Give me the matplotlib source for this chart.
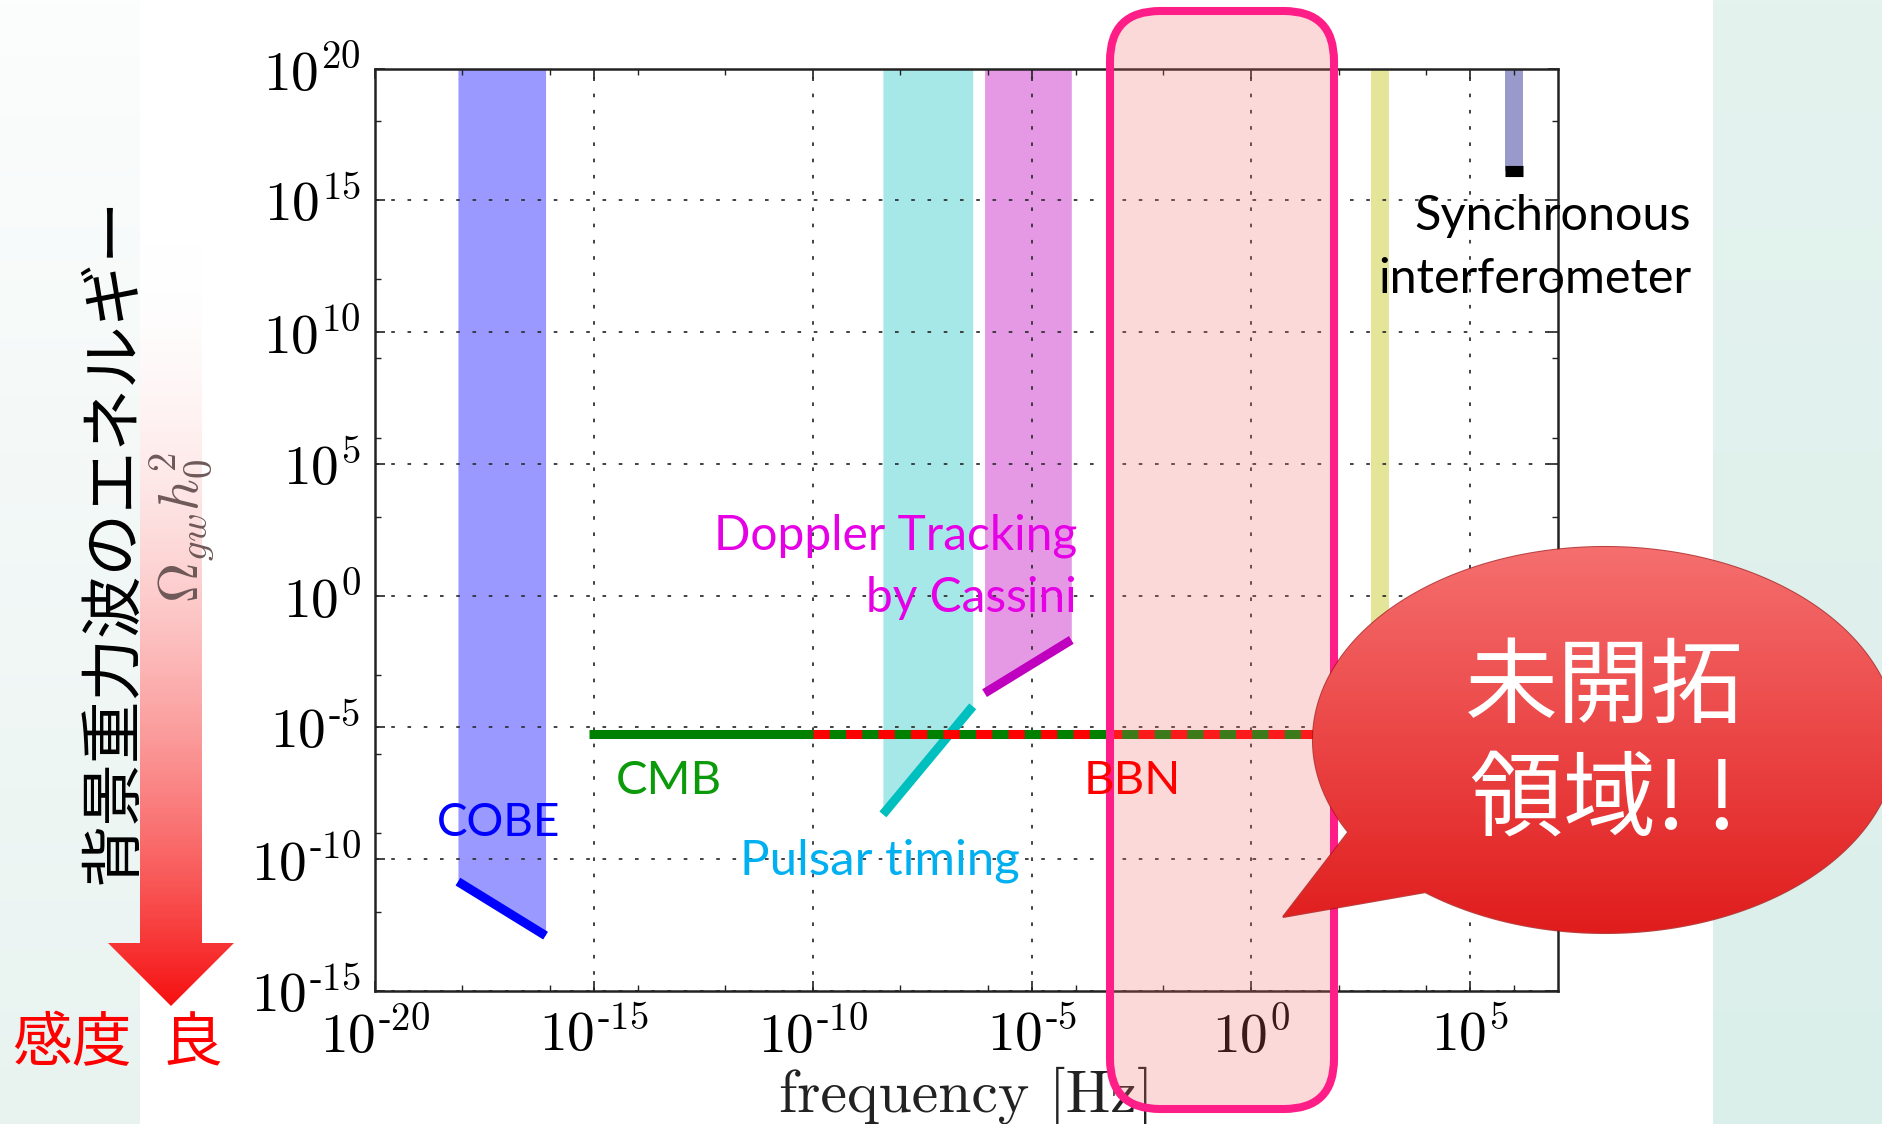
import numpy as np
import matplotlib
matplotlib.use('Agg')
import matplotlib.pyplot as plt
from matplotlib.patches import FancyBboxPatch, Polygon
from matplotlib.ticker import FixedLocator, FuncFormatter, NullFormatter

plt.rcParams['mathtext.fontset'] = 'cm'

# ---- data (frequency in Hz, Omega_gw h0^2) ----
cobe_f = [10**-18.1, 10**-16.1]
cobe_omega = [10**-10.85, 10**-12.9]

pulsar_f = [10**-8.4, 10**-6.35]
pulsar_omega = [10**-8.3, 10**-4.2]

cassini_f = [10**-6.08, 10**-4.1]
cassini_omega = [10**-3.7, 10**-1.68]

cmb_f = [10**-15.1, 10**3]
bbn_f = [10**-10, 10**3]
bbn_omega = 5.6e-6

yellow_f = [10**2.75, 10**3.15]
yellow_omega_low = 1e-4

sync_f = [10**5.8, 10**6.2]
sync_omega = 10**16.1

omega_top = 1e20

x_major_exp = [-20, -15, -10, -5, 0, 5]
x_minor_exp = [-18, -16, -14, -12, -8, -6, -4, -2, 2, 4, 6]
y_major_exp = [-15, -10, -5, 0, 5, 10, 15, 20]
y_minor_exp = [-12, -9, -6, -3, 3, 6, 9, 12, 18]

W, H = 1883, 1124


def vgrad(c_top, c_bot, n=256, power=1.0):
    t = np.linspace(0, 1, n) ** power
    arr = (1 - t)[:, None] * np.array(c_top)[None, :] + t[:, None] * np.array(c_bot)[None, :]
    return arr[:, None, :] / 255.0


def pow10_label(v, pos):
    e = int(round(np.log10(v)))
    if e < 0:
        return r'$10^{\text{-}%d}$' % (-e)
    return r'$10^{%d}$' % e


fig = plt.figure(figsize=(W / 100, H / 100), dpi=100)

# ---- slide background ----
bg = fig.add_axes([0, 0, 1, 1], zorder=0)
bg.imshow(vgrad((252, 253, 253), (232, 243, 240)), extent=(0, 140, H, 0), aspect='auto')
bg.imshow(vgrad((229, 243, 239), (219, 239, 234)), extent=(1713, W, H, 0), aspect='auto')

# gradient arrow
arrow_pts = [(140, 246), (202, 246), (202, 943), (234, 943), (171, 1006), (108, 943), (140, 943)]
arrow_poly = Polygon(arrow_pts, closed=True, fc='none', ec='none', transform=bg.transData)
bg.add_patch(arrow_poly)
im = bg.imshow(vgrad((255, 255, 255), (246, 14, 14), power=2.0), extent=(100, 245, 1010, 240), aspect='auto')
im.set_clip_path(arrow_poly)
bg.set_xlim(0, W)
bg.set_ylim(H, 0)
bg.axis('off')

# ---- main chart ----
ax = fig.add_axes([374.7 / W, 1 - 991 / H, (1557.6 - 374.7) / W, (991 - 68.5) / H], zorder=1)
ax.set_xscale('log')
ax.set_yscale('log')

ax.fill_between(cobe_f, cobe_omega, omega_top, color='b', alpha=0.4, lw=0)
ax.plot(cobe_f, cobe_omega, color='b', lw=6.5, solid_capstyle='butt')

ax.fill_between(pulsar_f, pulsar_omega, omega_top, color='c', alpha=0.35, lw=0)
ax.plot(pulsar_f, pulsar_omega, color='c', lw=6.5, solid_capstyle='butt')

ax.fill_between(cassini_f, cassini_omega, omega_top, color='m', alpha=0.4, lw=0)
ax.plot(cassini_f, cassini_omega, color='m', lw=6.5, solid_capstyle='butt')

ax.plot(cmb_f, [bbn_omega, bbn_omega], color='g', lw=6.5, solid_capstyle='butt')
ax.plot(bbn_f, [bbn_omega, bbn_omega], color='r', lw=6.5, linestyle=(0, (1.8, 1.8)),
        dash_capstyle='butt')

ax.fill_between(yellow_f, yellow_omega_low, omega_top, color='y', alpha=0.4, lw=0)

ax.fill_between(sync_f, sync_omega, omega_top, color='navy', alpha=0.4, lw=0)
ax.plot(sync_f, [sync_omega, sync_omega], color='k', lw=8, solid_capstyle='butt')

ax.set_xlim(1e-20, 1e7)
ax.set_ylim(1e-15, 1e20)

fmt = FuncFormatter(pow10_label)
ax.xaxis.set_major_locator(FixedLocator([10.0**e for e in x_major_exp]))
ax.xaxis.set_minor_locator(FixedLocator([10.0**e for e in x_minor_exp]))
ax.yaxis.set_major_locator(FixedLocator([10.0**e for e in y_major_exp]))
ax.yaxis.set_minor_locator(FixedLocator([10.0**e for e in y_minor_exp]))
ax.xaxis.set_major_formatter(fmt)
ax.yaxis.set_major_formatter(fmt)
ax.xaxis.set_minor_formatter(NullFormatter())
ax.yaxis.set_minor_formatter(NullFormatter())

ax.tick_params(which='both', direction='in', top=True, right=True, color='#222222')
ax.tick_params(which='major', length=7, width=1.2, labelsize=40, pad=10)
ax.tick_params(axis='x', which='major', pad=13)
ax.tick_params(which='minor', length=4, width=1.0)
for s in ax.spines.values():
    s.set_linewidth(1.8)
    s.set_color('#222222')
ax.grid(True, which='major', color='#333333', linestyle=(0, (2, 7)), linewidth=1.3)

ax.set_xlabel('frequency [Hz]', fontsize=43, family='cmr10', color='#222222')
ax.xaxis.set_label_coords(0.5, -0.082)

# ---- overlay: labels, highlight box, speech bubble ----
ov = fig.add_axes([0, 0, 1, 1], zorder=2)
ov.patch.set_visible(False)

lat = ['Lato', 'DejaVu Sans']
jp = ['Noto Sans CJK JP', 'DejaVu Sans']

ov.text(183, 528, r'$\Omega_{gw}h_0^2$', rotation=90, ha='center', va='center',
        fontsize=40, color='#6e5858')
ov.text(114, 540, '背景重力波のエネルギー', rotation=90, ha='center', va='center',
        fontsize=45, family=jp, color='black')
ov.text(72, 1045, '感度', ha='center', va='center', fontsize=43, family=jp, color='#ff0000')
ov.text(192, 1045, '良', ha='center', va='center', fontsize=43, family=jp, color='#ff0000')

ov.text(1691, 216, 'Synchronous', ha='right', va='center', fontsize=35, family=lat, color='black')
ov.text(1691, 279, 'interferometer', ha='right', va='center', fontsize=35, family=lat, color='black')
ov.text(1077, 536, 'Doppler Tracking', ha='right', va='center', fontsize=34.5, family=lat, color='#e600e6')
ov.text(1077, 598, 'by Cassini', ha='right', va='center', fontsize=34.5, family=lat, color='#e600e6')
ov.text(616, 781, 'CMB', ha='left', va='center', fontsize=34, family=lat, color='#0a9a0a')
ov.text(1084, 781, 'BBN', ha='left', va='center', fontsize=34, family=lat, color='#ff0000')
ov.text(437, 823, 'COBE', ha='left', va='center', fontsize=33, family=lat, color='#0000ff')
ov.text(740, 861, 'Pulsar timing', ha='left', va='center', fontsize=35.5, family=lat, color='#00b0f0')

box = FancyBboxPatch((1110, 11), 224, 1098, boxstyle='round,pad=0,rounding_size=50',
                     fc=(247 / 255, 107 / 255, 107 / 255, 0.25), ec='#ff1e87', lw=5.8)
ov.add_patch(box)

# speech bubble
cx, cy, a, b = 1605, 740, 292, 193
t = np.radians(np.linspace(151.5, 488, 300))
bubble_pts = np.column_stack([cx + a * np.cos(t), cy + b * np.sin(t)])
bubble_pts = np.vstack([bubble_pts, [1283, 917]])
bubble = Polygon(bubble_pts, closed=True, fc='none', ec='#a81414', lw=1.5, alpha=0.8)
ov.add_patch(bubble)
bim = ov.imshow(vgrad((246, 112, 112), (224, 28, 28)), extent=(1270, 1900, 935, 540),
                aspect='auto', zorder=1.5)
bim.set_clip_path(bubble)

ov.text(1604, 689, '未開拓', ha='center', va='center', fontsize=67, family=jp, color='white', zorder=3)
ov.text(1603, 802, '領域! !', ha='center', va='center', fontsize=67, family=jp, color='white', zorder=3)

ov.set_xlim(0, W)
ov.set_ylim(H, 0)
ov.axis('off')

fig.savefig('out.png', dpi=100)
